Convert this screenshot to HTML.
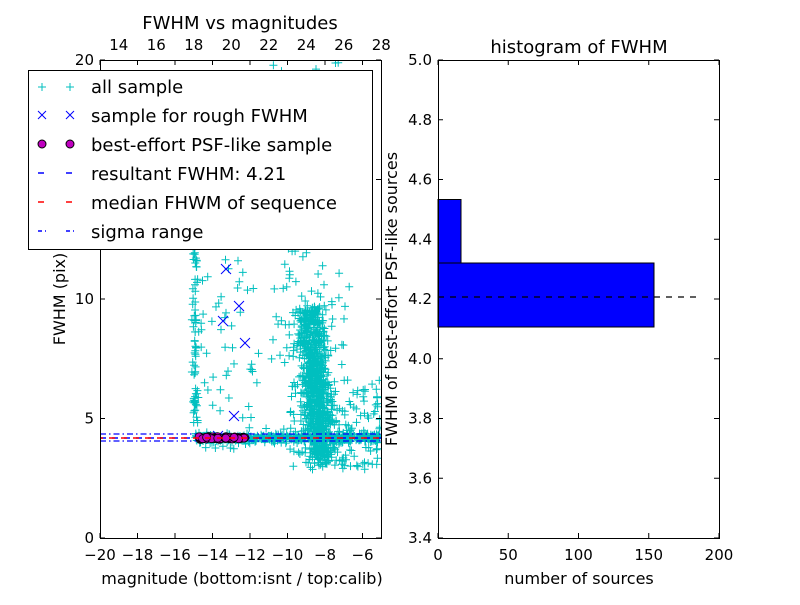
<!DOCTYPE html>
<html><head><meta charset="utf-8"><style>
html,body{margin:0;padding:0;background:#fff}
svg text{font-family:"DejaVu Sans","Liberation Sans",sans-serif;fill:#000}
</style></head><body>
<svg id="s" width="800" height="600" xmlns="http://www.w3.org/2000/svg">
<rect width="800" height="600" fill="#fff"/>
<g id="pts"></g>
<line x1="100" y1="434" x2="381" y2="434" stroke="#0000ff" stroke-width="1.2" stroke-dasharray="6,3,1.5,3"/>
<line x1="100" y1="441" x2="381" y2="441" stroke="#0000ff" stroke-width="1.2" stroke-dasharray="6,3,1.5,3"/>
<line x1="100" y1="438" x2="381" y2="438" stroke="#0000ff" stroke-width="1.5" stroke-dasharray="6,6"/>
<g id="circ"></g>
<line x1="100" y1="438" x2="381" y2="438" stroke="#ff0000" stroke-width="1.5" stroke-dasharray="6,6" stroke-dashoffset="3"/>
<rect x="0" y="0" width="100" height="600" fill="#fff"/>
<rect x="381" y="0" width="57" height="600" fill="#fff"/>
<rect x="100" y="0" width="282" height="60" fill="#fff"/>
<rect x="100" y="538" width="282" height="62" fill="#fff"/>
<rect x="100.5" y="60.5" width="281" height="478" fill="none" stroke="#000"/>
<g id="ticks" stroke="#000"></g>
<g id="labels" font-size="15"></g>
<text x="240" y="29" font-size="18" text-anchor="middle">FWHM vs magnitudes</text>
<text x="242" y="584" font-size="16" text-anchor="middle">magnitude (bottom:isnt / top:calib)</text>
<text transform="translate(65,299) rotate(-90)" font-size="16" text-anchor="middle">FWHM (pix)</text>
<rect x="28.5" y="70.5" width="344" height="179" fill="#fff" stroke="#000"/>
<g font-size="18">
<text x="91" y="93">all sample</text>
<text x="91" y="122">sample for rough FWHM</text>
<text x="91" y="151">best-effort PSF-like sample</text>
<text x="91" y="180">resultant FWHM: 4.21</text>
<text x="91" y="209">median FHWM of sequence</text>
<text x="91" y="238">sigma range</text>
</g>
<g stroke="#00bfbf" stroke-width="1"><path d="M38 87h8M42 83v8M66 87h8M70 83v8"/></g>
<g stroke="#0000ff" stroke-width="1"><path d="M38 111l8 8M46 111l-8 8M66 111l8 8M74 111l-8 8"/></g>
<circle cx="42" cy="144" r="4" fill="#bf00bf" stroke="#000"/><circle cx="70" cy="144" r="4" fill="#bf00bf" stroke="#000"/>
<path d="M38 173h6M66 173h6" stroke="#0000ff" stroke-width="1.5"/>
<path d="M38 202h6M66 202h6" stroke="#ff0000" stroke-width="1.5"/>
<path d="M38 231h4M45 231h1M66 231h4M73 231h1" stroke="#0000ff" stroke-width="1.5"/>
<rect x="438" y="199.5" width="23" height="63.5" fill="#0000ff" stroke="#000"/>
<rect x="438" y="263" width="216" height="64" fill="#0000ff" stroke="#000"/>
<line x1="438" y1="297" x2="700" y2="297" stroke="#000" stroke-width="1.2" stroke-dasharray="6,6"/>
<rect x="438.5" y="60.5" width="281" height="478" fill="none" stroke="#000"/>
<text x="579" y="53" font-size="18" text-anchor="middle">histogram of FWHM</text>
<text x="579" y="584" font-size="16" text-anchor="middle">number of sources</text>
<text transform="translate(397,299) rotate(-90)" font-size="16" text-anchor="middle">FWHM of best-effort PSF-like sources</text>
</svg>
<script>
var ns="http://www.w3.org/2000/svg";
function el(p,t,a,txt){var e=document.createElementNS(ns,t);for(var k in a)e.setAttribute(k,a[k]);if(txt!==undefined)e.textContent=txt;p.appendChild(e);return e;}
var seed=12345;function r(){seed=(seed*1103515245+12345)%2147483648;return seed/2147483648;}
function g(){return (r()+r()+r()+r()-2)*0.9;}
var P=document.getElementById('pts');var d="";
function plus(x,y){if(x<101||x>380||y<61||y>537)return;d+="M"+(x-4).toFixed(1)+" "+y.toFixed(1)+"h8M"+x.toFixed(1)+" "+(y-4).toFixed(1)+"v8";}
var i;
for(i=0;i<450;i++)plus(195+r()*186,438+g()*4+(r()<0.1?g()*12:0));
for(i=0;i<800;i++){var y=310+r()*150;var cx=322-(460-y)*0.08;plus(cx+g()*14,y+g()*8);}
for(i=0;i<180;i++)plus(290+r()*90,380+r()*90);
for(i=0;i<90;i++)plus(270+r()*80,200+r()*170);
for(i=0;i<40;i++)plus(265+r()*75,62+r()*140);
for(i=0;i<70;i++)plus(195+g()*3,240+r()*190);
for(i=0;i<15;i++)plus(196+r()*3,62+r()*170);
for(i=0;i<45;i++)plus(200+r()*60,250+r()*180);
for(i=0;i<12;i++)plus(215+r()*20,62+r()*170);
el(P,'path',{d:d,stroke:'#00bfbf','stroke-width':1,fill:'none'});
var X=[[226,269],[223,321],[239,306],[245,343],[234,416],[218,436]];var xd="";
X.forEach(function(p){xd+="M"+(p[0]-5)+" "+(p[1]-5)+"l10 10M"+(p[0]+5)+" "+(p[1]-5)+"l-10 10";});
el(P,'path',{d:xd,stroke:'#0000ff','stroke-width':1,fill:'none'});
var C=document.getElementById('circ');
for(i=0;i<60;i++)el(C,'circle',{cx:(199+r()*46).toFixed(1),cy:(438+g()*1.5).toFixed(1),r:4,fill:'#bf00bf',stroke:'#000','stroke-width':0.8});
var T=document.getElementById('ticks'),L=document.getElementById('labels');var td="";
for(var m=-20;m<=-6;m+=2){var x=100+(m+20)*18.75;td+="M"+x+" 538v-5M"+x+" 60v5";el(L,'text',{x:x,y:560,'text-anchor':'middle'},'\u2212'+(-m));}
for(var m=14;m<=28;m+=2){var x=100+(m-33+20)*18.75;el(L,'text',{x:x,y:50,'text-anchor':'middle'},m);}
for(var v=0;v<=20;v+=5){var y=538-v*23.9;td+="M100 "+y+"h5M381 "+y+"h-5";el(L,'text',{x:94,y:y+5,'text-anchor':'end'},v);}
for(var n=0;n<=200;n+=50){var x=438+n*1.405;td+="M"+x+" 538v-5M"+x+" 60v5";el(L,'text',{x:x,y:560,'text-anchor':'middle'},n);}
for(var k=0;k<=8;k++){var v=3.4+k*0.2;var y=538-k*59.75;td+="M438 "+y+"h5M719 "+y+"h-5";el(L,'text',{x:432,y:y+5,'text-anchor':'end'},v.toFixed(1));}
el(T,'path',{d:td,fill:'none'});
</script>
</body></html>
